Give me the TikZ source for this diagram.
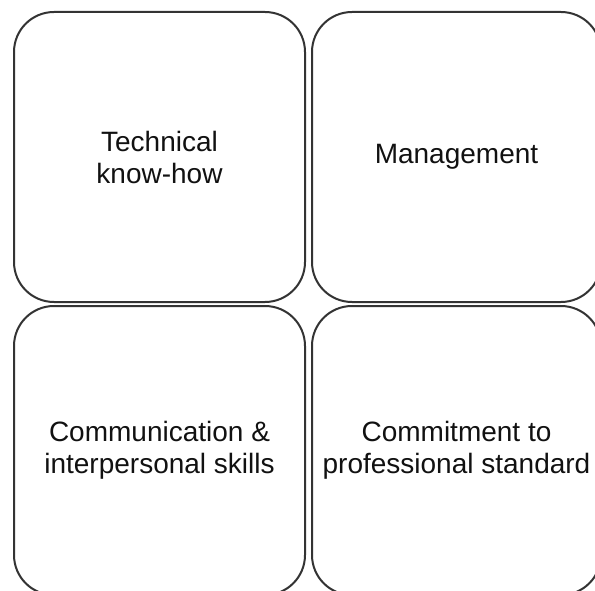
\documentclass[tikz,border=0pt]{standalone}
\usepackage{fontspec}
\setmainfont{Liberation Sans}
\definecolor{edge}{HTML}{333333}
\definecolor{ink}{HTML}{111111}
\begin{document}
\begin{tikzpicture}[x=1pt,y=-1pt,
  card/.style={draw=edge, line width=2pt, rounded corners=40pt, inner sep=0pt,
    minimum width=291pt, minimum height=290pt, align=center, text=ink,
    font=\fontsize{28}{32}\selectfont}]
\useasboundingbox (0,0) rectangle (595,591);
\node[card] (tech) at (159.5,157) {Technical\\know-how};
\node[card, minimum width=289pt] (mgmt) at (456.5,157) {Management};
\node[card, minimum height=289pt] (comm) at (159.5,450.5) {Communication \&\\interpersonal skills};
\node[card, minimum width=289pt, minimum height=289pt] (commit) at (456.5,450.5) {Commitment to\\professional standard};
\end{tikzpicture}
\end{document}
